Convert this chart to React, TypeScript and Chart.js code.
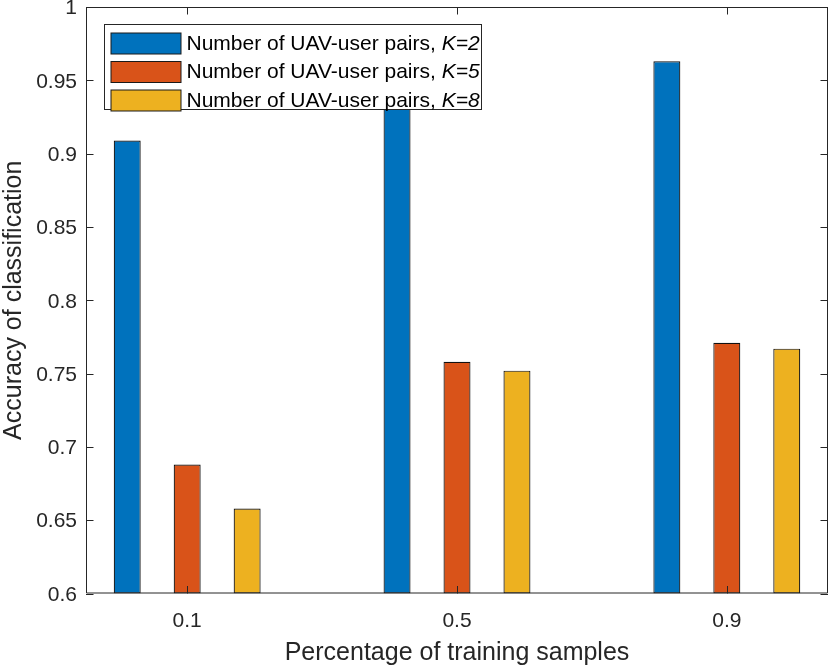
import React, { useEffect, useRef } from "react";
import { Chart, registerables } from "chart.js";

Chart.register(...registerables);

// ---- data ----
const categories = [0.1, 0.5, 0.9];
const xTickLabels = ["0.1", "0.5", "0.9"];
const k2Values = [0.909, 0.94, 0.963];
const k5Values = [0.688, 0.758, 0.771];
const k8Values = [0.658, 0.752, 0.767];
const seriesPrefix = "Number of UAV-user pairs, ";
const seriesSuffixes = ["K=2", "K=5", "K=8"];
const yTicks = [0.6, 0.65, 0.7, 0.75, 0.8, 0.85, 0.9, 0.95, 1];
const xTitle = "Percentage of training samples";
const yTitle = "Accuracy of classification";

const colors = ["#0072BD", "#D95319", "#EDB120"];
const AXIS = "#262626";
const FONT = "'Liberation Sans', Arial, Helvetica, sans-serif";

const framePlugin = {
  id: "frameTicks",
  afterDatasetsDraw(chart: any) {
    const { ctx, chartArea: ca, scales } = chart;
    const x = scales.x;
    const y = scales.y;
    ctx.save();
    ctx.strokeStyle = AXIS;
    ctx.lineWidth = 1;
    ctx.beginPath();
    ctx.rect(ca.left + 0.5, ca.top + 0.5, ca.right - ca.left - 1, ca.bottom - ca.top - 1);
    const tl = 7.5;
    categories.forEach((v) => {
      const px = Math.round(x.getPixelForValue(v)) + 0.5;
      ctx.moveTo(px, ca.bottom);
      ctx.lineTo(px, ca.bottom - tl);
      ctx.moveTo(px, ca.top);
      ctx.lineTo(px, ca.top + tl);
    });
    yTicks.forEach((v) => {
      const py = Math.round(y.getPixelForValue(v)) + 0.5;
      ctx.moveTo(ca.left, py);
      ctx.lineTo(ca.left + tl, py);
      ctx.moveTo(ca.right, py);
      ctx.lineTo(ca.right - tl, py);
    });
    ctx.stroke();
    ctx.restore();
  },
};

const legendPlugin = {
  id: "matlabLegend",
  afterDraw(chart: any) {
    const { ctx, chartArea: ca } = chart;
    const lx = Math.round(ca.left + 18) + 0.5;
    const ly = Math.round(ca.top + 17) + 0.5;
    const w = 377;
    const h = 85;
    ctx.save();
    ctx.fillStyle = "#ffffff";
    ctx.fillRect(lx, ly, w, h);
    ctx.strokeStyle = AXIS;
    ctx.lineWidth = 1;
    ctx.strokeRect(lx, ly, w, h);
    chart.data.datasets.forEach((ds: any, i: number) => {
      const sy = ly + 8.5 + i * 28.5;
      ctx.fillStyle = ds.backgroundColor;
      ctx.fillRect(lx + 6.5, sy, 70, 21);
      ctx.strokeStyle = "#1a1a1a";
      ctx.strokeRect(lx + 6.5, sy, 70, 21);
      const ty = sy + 11;
      ctx.fillStyle = "#000000";
      ctx.textBaseline = "middle";
      ctx.textAlign = "left";
      ctx.font = `21px ${FONT}`;
      const tx = lx + 82;
      ctx.fillText(seriesPrefix, tx, ty);
      const pw = ctx.measureText(seriesPrefix).width;
      ctx.font = `italic 21px ${FONT}`;
      ctx.fillText(seriesSuffixes[i], tx + pw, ty);
    });
    ctx.restore();
  },
};

export default function App() {
  const ref = useRef<HTMLCanvasElement | null>(null);
  useEffect(() => {
    if (!ref.current) return;
    const mk = (vals: number[], i: number) => ({
      label: seriesPrefix + seriesSuffixes[i],
      data: categories.map((c, j) => ({ x: c, y: vals[j] })),
      backgroundColor: colors[i],
      borderColor: "#111111",
      borderWidth: 1.2,
      borderSkipped: false,
      base: 0.6,
      categoryPercentage: 2 / 3,
      barPercentage: 0.45,
    });
    const chart = new Chart(ref.current, {
      type: "bar",
      data: {
        datasets: [mk(k2Values, 0), mk(k5Values, 1), mk(k8Values, 2)] as any,
      },
      plugins: [framePlugin, legendPlugin],
      options: {
        animation: false,
        responsive: true,
        maintainAspectRatio: false,
        layout: { padding: { left: 0, top: 7, right: 2, bottom: 0 } },
        plugins: {
          legend: { display: false },
          tooltip: { enabled: false },
        },
        scales: {
          x: {
            type: "linear",
            min: -0.05,
            max: 1.05,
            offset: false,
            grid: { display: false, drawTicks: false },
            border: { display: false },
            afterBuildTicks: (s: any) => {
              s.ticks = categories.map((v) => ({ value: v }));
            },
            afterFit: (s: any) => {
              s.height = 72.5;
              s.paddingLeft = 0;
              s.paddingRight = 0;
            },
            ticks: {
              autoSkip: false,
              maxRotation: 0,
              padding: 15,
              color: AXIS,
              font: { family: FONT, size: 21 },
              callback: (v: any) => {
                const i = categories.indexOf(Number(v));
                return i >= 0 ? xTickLabels[i] : "";
              },
            },
            title: {
              display: true,
              text: xTitle,
              color: AXIS,
              font: { family: FONT, size: 25 },
              padding: { top: 0, bottom: -2 },
            },
          },
          y: {
            type: "linear",
            min: 0.6,
            max: 1,
            grid: { display: false, drawTicks: false },
            border: { display: false },
            afterBuildTicks: (s: any) => {
              s.ticks = yTicks.map((v) => ({ value: v }));
            },
            afterFit: (s: any) => {
              s.width = 86;
              s.paddingTop = 0;
              s.paddingBottom = 0;
            },
            ticks: {
              padding: 9,
              labelOffset: 1.5,
              color: AXIS,
              font: { family: FONT, size: 21 },
              callback: (v: any) => String(Number(Number(v).toFixed(2))),
            },
            title: {
              display: true,
              text: yTitle,
              color: AXIS,
              font: { family: FONT, size: 25 },
              padding: { top: -1, bottom: 0 },
            },
          },
        },
      },
    });
    return () => chart.destroy();
  }, []);
  return (
    <div style={{ position: "absolute", left: 0, top: 0, width: 830, height: 666, background: "#fff" }}>
      <canvas ref={ref} />
    </div>
  );
}
